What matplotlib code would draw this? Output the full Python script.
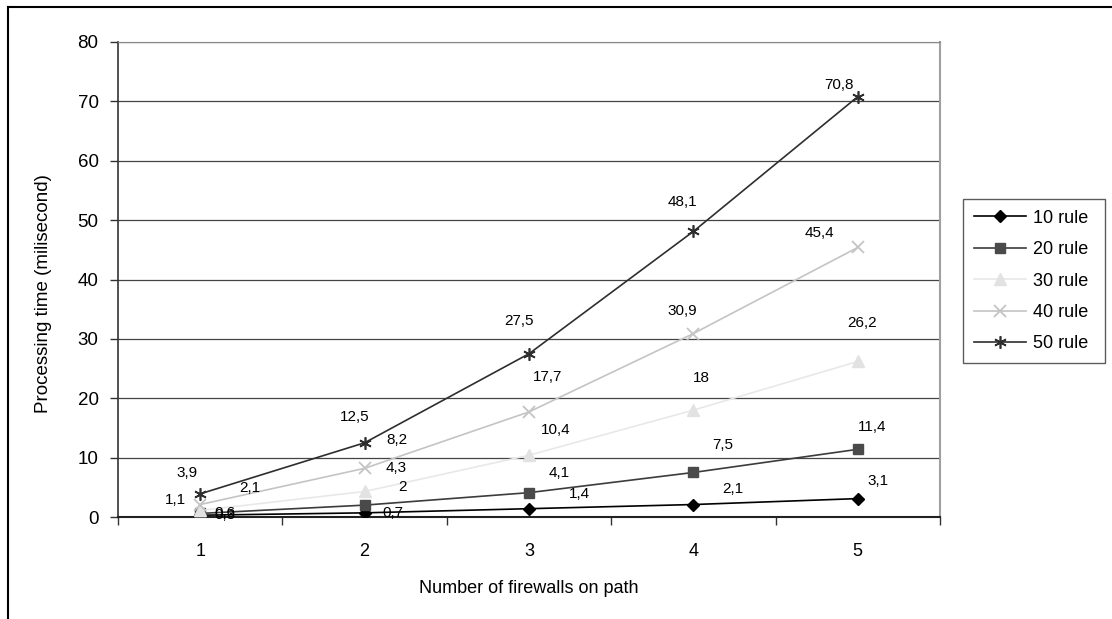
import matplotlib.pyplot as plt
from matplotlib.lines import Line2D

# ==================================================
# DATA
# ==================================================

firewalls = [1, 2, 3, 4, 5]

rule_10 = [0.3, 0.7, 1.4, 2.1, 3.1]
rule_20 = [0.6, 2.0, 4.1, 7.5, 11.4]
rule_30 = [1.1, 4.3, 10.4, 18.0, 26.2]
rule_40 = [2.1, 8.2, 17.7, 30.9, 45.4]
rule_50 = [3.9, 12.5, 27.5, 48.1, 70.8]

series_names = ["10 rule", "20 rule", "30 rule", "40 rule", "50 rule"]
y_ticks = [0, 10, 20, 30, 40, 50, 60, 70, 80]

# ==================================================
# STYLE / LAYOUT
# ==================================================

plt.rcParams["font.family"] = ["Liberation Sans", "DejaVu Sans"]

styles = [
    dict(color="#000000", marker="D", ms=6, mfc="#000000", mec="#000000", lw=1.2),
    dict(color="#3c3c3c", marker="s", ms=7, mfc="#4a4a4a", mec="#4a4a4a", lw=1.2),
    dict(color="#e8e8e8", marker="^", ms=8, mfc="#e2e2e2", mec="#e2e2e2", lw=1.2),
    dict(color="#c4c4c4", marker="x", ms=9, mfc="none", mec="#c4c4c4", mew=1.3, lw=1.2),
    dict(color="#2e2e2e", marker=(6, 2, 0), ms=9, mec="#2e2e2e", mew=1.2, lw=1.2),
]

# label offsets in pixels (dx right, dy up) for every point of each series
label_offsets = [
    [(25, 0), (28, 0), (50, 15), (39, 16), (20, 18)],
    [(25, 0), (38, 18), (30, 20), (29, 27), (14, 22)],
    [(-25, 10), (32, 23), (27, 25), (8, 32), (4, 38)],
    [(50, 17), (32, 28), (19, 35), (-11, 23), (-38, 14)],
    [(-13, 21), (-10, 26), (-10, 33), (-11, 29), (-19, 12)],
]

fig = plt.figure(figsize=(11.12, 6.19), dpi=100)
ax = fig.add_axes([118 / 1112, 1 - 517 / 619, (940 - 118) / 1112, (517 - 42) / 619])

all_series = [rule_10, rule_20, rule_30, rule_40, rule_50]

for values, name, st, offs in zip(all_series, series_names, styles, label_offsets):
    ax.plot(firewalls, values, label=name, zorder=3, **st)
    for x, v, (dx, dy) in zip(firewalls, values, offs):
        txt = f"{v:g}".replace(".", ",")
        ax.annotate(txt, (x, v), xytext=(dx, dy), textcoords="offset pixels",
                    ha="center", va="center", fontsize=11, color="#000000",
                    zorder=4)

# axes
ax.set_xlim(0.5, 5.5)
ax.set_ylim(0, 80)
ax.set_yticks(y_ticks)
ax.set_xticks(firewalls)
ax.set_xticks([0.5, 1.5, 2.5, 3.5, 4.5, 5.5], minor=True)
ax.tick_params(axis="x", which="major", length=0, pad=19, labelsize=13)
ax.tick_params(axis="x", which="minor", length=6, width=1, color="#333333")
ax.tick_params(axis="y", length=6, width=1, color="#333333", pad=8, labelsize=13.5)

ax.grid(axis="y", color="#444444", lw=0.9, zorder=1)
ax.set_axisbelow(True)

ax.spines["left"].set_color("#333333")
ax.spines["bottom"].set_color("#222222")
ax.spines["left"].set_linewidth(1.2)
ax.spines["bottom"].set_linewidth(1.5)
ax.spines["right"].set_color("#a0a0a0")
ax.spines["right"].set_linewidth(1.5)
ax.spines["top"].set_color("#888888")

ax.set_xlabel("Number of firewalls on path", fontsize=13)
ax.xaxis.set_label_coords(0.5, -0.133)
ax.set_ylabel("Processing time (milisecond)", fontsize=13.5)
ax.yaxis.set_label_coords(-0.08, 0.47)

leg = fig.legend(loc="center", bbox_to_anchor=(963 / 1112, 1 - 368 / 619,
                                                (1105 - 963) / 1112, (368 - 194) / 619),
                 fontsize=13, frameon=True, fancybox=False, handlelength=2.9,
                 labelspacing=0.8, borderpad=0.6, handletextpad=0.4,
                 borderaxespad=0, mode="expand")
leg.get_frame().set_edgecolor("#333333")
leg.get_frame().set_linewidth(1.0)

# outer chart frame
fig.add_artist(Line2D([8 / 1112, 1], [1 - 7 / 619, 1 - 7 / 619],
                      transform=fig.transFigure, color="#000000", lw=1.5))
fig.add_artist(Line2D([8 / 1112, 8 / 1112], [0, 1 - 7 / 619],
                      transform=fig.transFigure, color="#000000", lw=1.5))

fig.savefig("out.png", dpi=100)
